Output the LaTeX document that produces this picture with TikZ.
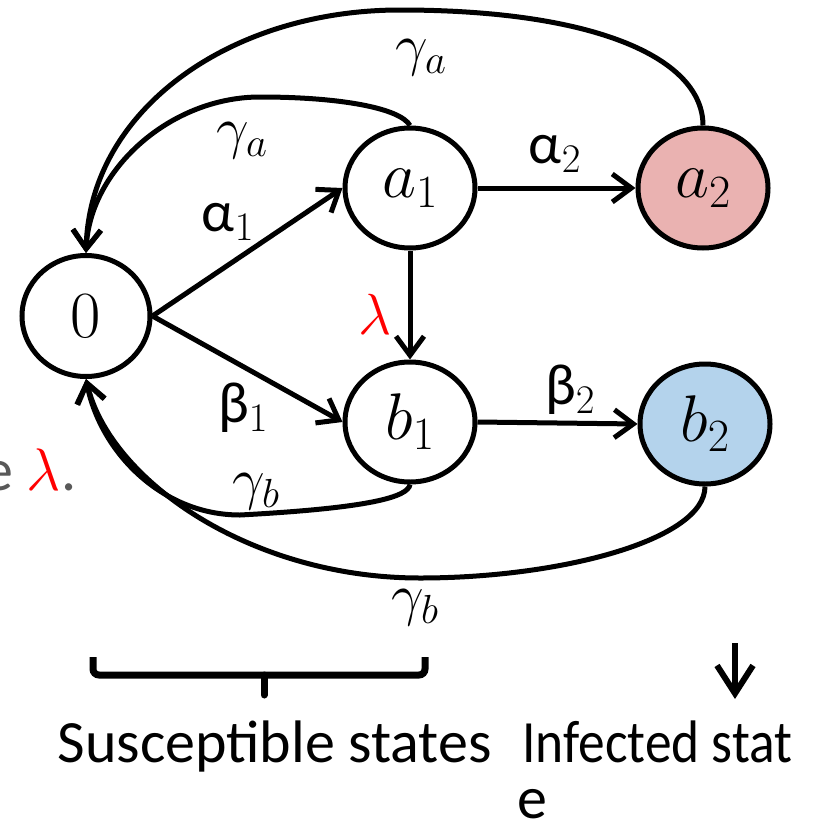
\documentclass[tikz,border=0pt]{standalone}
\usepackage{fix-cm}
\usepackage{fontspec}
\setmainfont{Carlito}
\usetikzlibrary{arrows.meta,shapes.geometric}
\tikzset{every picture/.style={line width=5pt}}
\tikzset{
state/.style={draw, ellipse, inner sep=0pt, line width=5pt, minimum width=130pt, minimum height=120pt, font=\fontsize{66}{66}\selectfont},
lbl/.style={inner sep=0pt, font=\fontsize{58}{58}\selectfont},
arr/.style={line width=5pt, -{Straight Barb[length=19pt,width=28pt]}},
txt/.style={inner sep=0pt, anchor=base west, font=\fontsize{60}{60}\selectfont}}

\begin{document}
\begin{tikzpicture}[x=1pt,y=1pt,yscale=-1,xscale=1,line width=5pt]
\useasboundingbox (0,0) rectangle (816,835);

%Shape: States
\draw (86,316) node [state, minimum width=128pt, minimum height=121pt] (zero) {$0$};
\draw (410,188) node [state] (a1) {$a_1$};
\draw (703,188) node [state, fill={rgb, 255:red, 234; green, 178; blue, 177 }] (a2) {$a_2$};
\draw (410,422) node [state] (b1) {$b_1$};
\draw (705,424) node [state, fill={rgb, 255:red, 180; green, 211; blue, 236 }] (b2) {$b_2$};

%Straight Lines
\draw [arr] (zero.east) -- (a1.west);
\draw [arr] (zero.east) -- (b1.west);
\draw [arr] (a1.south) -- (b1.north);
\draw [arr] (a1.east) -- (a2.west);
\draw [arr] (b1.east) -- (b2.west);

%Curve Lines
\draw [arr] (a2.north) .. controls (703,60) and (600,10) .. (400,10) .. controls (230,10) and (90,110) .. (zero.north);
\draw [arr] (a1.north) .. controls (400,108) and (340,97) .. (260,97) .. controls (170,97) and (90,170) .. (zero.north);
\draw [arr] (b1.south) .. controls (408,497) and (370,508) .. (240,515) .. controls (160,515) and (100,450) .. (zero.south);
\draw [arr] (b2.south) .. controls (705,540) and (560,578) .. (420,578) .. controls (250,578) and (110,480) .. (zero.south);

%Shape: Brace
\draw [line width=7pt, rounded corners=6pt] (93,657) |- (425,675) -- (425,657);
\draw [line width=7pt, line cap=round] (264,675) -- (264,695);
%Straight Lines
\draw [line width=6pt, -{Straight Barb[length=28pt,width=36pt]}] (735,643) -- (735,699);

% Text Node
\draw (421,58) node [lbl] (gaOut) {$\gamma_a$};
% Text Node
\draw (242,141) node [lbl] (gaIn) {$\gamma_a$};
% Text Node
\draw (228,222) node [lbl] (al1) {α$_1$};
% Text Node
\draw (375,314) node [lbl, text=red] (lam) {$\lambda$};
% Text Node
\draw (243,408) node [lbl] (be1) {β$_1$};
% Text Node
\draw (555,154) node [lbl] (al2) {α$_2$};
% Text Node
\draw (570,390) node [lbl] (be2) {β$_2$};
% Text Node
\draw (256,492) node [lbl] (gbIn) {$\gamma_b$};
% Text Node
\draw (415,608) node [lbl] (gbOut) {$\gamma_b$};
% Text Node
\draw (-19,490) node [txt, text={rgb, 255:red, 89; green, 89; blue, 89 }] (note) {e \textcolor{red}{$\lambda$}.};
% Text Node
\draw (55,762) node [txt] (susc) {Susceptible states};
% Text Node
\draw (520,762) node [txt] (inf) {\scalebox{0.89}[1]{Infected stat}};
% Text Node
\draw (515,818) node [txt] (infe) {e};

\end{tikzpicture}
\end{document}
